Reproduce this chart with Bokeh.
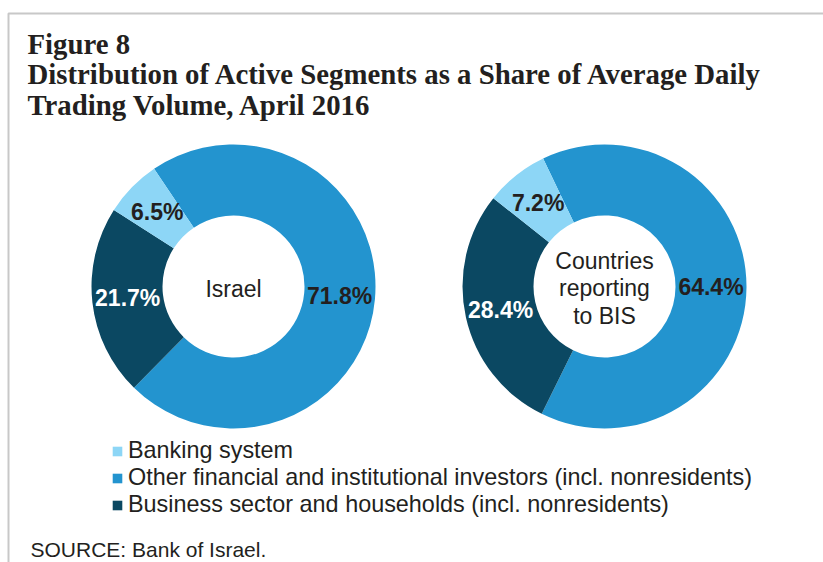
import math
from bokeh.plotting import figure
from bokeh.models import Range1d, Legend, LegendItem
from bokeh.core.properties import value
from bokeh.embed import file_html
from bokeh.resources import INLINE

# ---- data ----
segments = ["Other financial and institutional investors (incl. nonresidents)",
            "Business sector and households (incl. nonresidents)",
            "Banking system"]
israel_values = [71.8, 21.7, 6.5]
bis_values = [64.4, 28.4, 7.2]
donut_names = ["Israel", "Countries\nreporting\nto BIS"]
title_lines = ["Figure 8",
               "Distribution of Active Segments as a Share of Average Daily",
               "Trading Volume, April 2016"]
legend_order = ["Banking system",
                "Other financial and institutional investors (incl. nonresidents)",
                "Business sector and households (incl. nonresidents)"]
source_text = "SOURCE: Bank of Israel."

# ---- style ----
COLORS = {"Banking system": "#8dd6f6",
          segments[0]: "#2394cf",
          segments[1]: "#0b4862"}
LABEL_COLORS = {"Banking system": "#231f20",
                segments[0]: "#231f20",
                segments[1]: "#ffffff"}
TEXT = "#231f20"
W, H = 823, 562

p = figure(width=W, height=H, output_backend="svg", toolbar_location=None,
           x_range=Range1d(0, W), y_range=Range1d(0, H),
           x_axis_location=None, y_axis_location=None,
           min_border=0, outline_line_color=None)
p.xgrid.visible = False
p.ygrid.visible = False
p.background_fill_color = "white"
p.border_fill_color = "white"

# frame line (left + top)
p.line(x=[8, 8, W], y=[0, 549, 549], line_color="#c8c8c8", line_width=2)

# title
for i, t in enumerate(title_lines):
    p.text(x=[27], y=[519 - i * 30.5], text=[t], text_font=value("Liberation Serif"),
           text_font_style="bold", text_font_size="28.8px", text_color=TEXT,
           text_baseline="middle", text_align="left")

R_OUT, R_IN = 142, 71
centers = [(233, 276), (604, 276)]
start_cw = [-34.0, -25.6]  # clockwise-from-top angle where first slice begins
renderers = {}
for (cx, cy), vals, name, s0 in zip(centers, [israel_values, bis_values], donut_names, start_cw):
    total = sum(vals)
    acc = s0
    for seg, v in zip(segments, vals):
        span = 360.0 * v / total
        a0, a1 = acc, acc + span
        r = p.annular_wedge(x=cx, y=cy, inner_radius=R_IN, outer_radius=R_OUT,
                            start_angle=math.radians(90 - a0), end_angle=math.radians(90 - a1),
                            direction="clock", fill_color=COLORS[seg], line_color=None)
        renderers.setdefault(seg, r)
        mid = math.radians((a0 + a1) / 2)
        rm = (R_IN + R_OUT) / 2
        p.text(x=[cx + rm * math.sin(mid)], y=[cy + rm * math.cos(mid)], text=[f"{v:.1f}%"],
               text_font=value("Liberation Sans"), text_font_style="bold", text_font_size="23px",
               text_color=LABEL_COLORS[seg], text_align="center", text_baseline="middle")
        acc = a1
    p.text(x=[cx], y=[cy - 2], text=[name], text_font=value("Liberation Sans"),
           text_font_size="23px", text_color=TEXT, text_align="center",
           text_baseline="middle", text_line_height=1.05)

# source
p.text(x=[30], y=[13], text=[source_text], text_font=value("Liberation Sans"),
       text_font_size="21px", text_color=TEXT, text_align="left", text_baseline="middle")

legend = Legend(items=[LegendItem(label=lab, renderers=[renderers[lab]]) for lab in legend_order],
                location=(111, 44), orientation="vertical",
                glyph_width=12, glyph_height=12, label_height=26, spacing=0,
                label_standoff=5, padding=0, margin=0, border_line_color=None,
                background_fill_alpha=0, label_text_font="Liberation Sans",
                label_text_font_size="23.4px", label_text_color=TEXT)
p.add_layout(legend)

open("out.html", "w").write(file_html(p, INLINE))
